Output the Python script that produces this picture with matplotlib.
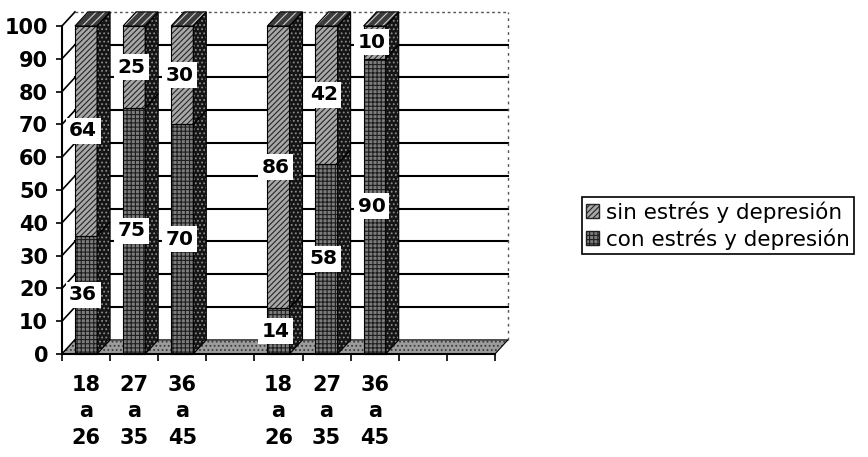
import numpy as np
import matplotlib
matplotlib.use('Agg')
import matplotlib.pyplot as plt
from matplotlib.patches import Polygon, Patch

# Data: 9 category slots, blanks are empty slots of the chart
categories = ['18\na\n26', '27\na\n35', '36\na\n45', '',
              '18\na\n26', '27\na\n35', '36\na\n45', '', '']
con_estres = [36, 75, 70, np.nan, 14, 58, 90, np.nan, np.nan]
sin_estres = [64, 25, 30, np.nan, 86, 42, 10, np.nan, np.nan]
series_names = ['sin estrés y depresión', 'con estrés y depresión']
yticks = list(range(0, 101, 10))

plt.rcParams['hatch.linewidth'] = 0.8

# 3D look: depth offset of the back wall, in data units
DX = 0.27
DY = 4.3
BAR_W = 0.46

SIN_FACE, SIN_HATCH = '#a8a8a8', '#262626'
CON_FACE, CON_HATCH = '#7c7c7c', '#1e1e1e'
SIDE_FACE, SIDE_HATCH = '#151515', '#8a8a8a'
TOP_FACE, TOP_HATCH = '#3c3c3c', '#cfcfcf'


def poly(ax, pts, face, hatch, hcol, z):
    """Filled, hatched polygon plus a separate black outline."""
    ax.add_patch(Polygon(pts, closed=True, facecolor=face, hatch=hatch,
                         edgecolor=hcol, lw=0, zorder=z, clip_on=False))
    ax.add_patch(Polygon(pts, closed=True, fill=False, edgecolor='black',
                         lw=0.8, zorder=z + 0.01, clip_on=False))


fig = plt.figure(figsize=(8.68, 4.57), dpi=100)
ax = fig.add_axes([0.0714, 0.2254, 0.4988, 0.7177])
ax.set_xlim(0, len(categories))
ax.set_ylim(0, 100)
ax.patch.set_visible(False)
for s in ['top', 'right']:
    ax.spines[s].set_visible(False)
for s in ['left', 'bottom']:
    ax.spines[s].set_linewidth(1.5)
    ax.spines[s].set_zorder(20)

n = len(categories)

# Back wall gridlines, top and right edge
for v in yticks[1:-1]:
    ax.plot([DX, n + DX], [v + DY, v + DY], color='black', lw=1.5, zorder=1,
            clip_on=False)
ax.plot([DX, n + DX], [100 + DY, 100 + DY], color='#555555', lw=1,
        ls=(0, (2, 2)), zorder=1, clip_on=False)
ax.plot([n + DX, n + DX], [DY, 100 + DY], color='#555555', lw=1,
        ls=(0, (2, 3)), zorder=1, clip_on=False)
# side-wall tick strokes from the front axis to the back wall
for v in yticks:
    ax.plot([0, DX], [v, v + DY], color='black', lw=1.2, zorder=2,
            clip_on=False)

# Floor
poly(ax, [(0, 0), (n, 0), (n + DX, DY), (DX, DY)], '#9c9c9c', '....',
     '#3a3a3a', 2)

# Front faces of stacked columns
x = np.arange(n) + 0.5
con_bars = ax.bar(x, con_estres, width=BAR_W, color=CON_FACE, hatch='++++',
                  edgecolor=CON_HATCH, lw=0, zorder=5)
sin_bars = ax.bar(x, sin_estres, width=BAR_W, bottom=con_estres,
                  color=SIN_FACE, hatch='//////', edgecolor=SIN_HATCH, lw=0,
                  zorder=5)

for cb, sb in zip(con_bars, sin_bars):
    if np.isnan(cb.get_height()):
        continue
    x0 = cb.get_x()
    x1 = x0 + cb.get_width()
    for b in (cb, sb):
        y0 = b.get_y()
        y1 = y0 + b.get_height()
        ax.add_patch(Polygon([(x0, y0), (x1, y0), (x1, y1), (x0, y1)],
                             fill=False, edgecolor='black', lw=0.8, zorder=5.5,
                             clip_on=False))
        # side face
        poly(ax, [(x1, y0), (x1 + DX, y0 + DY), (x1 + DX, y1 + DY), (x1, y1)],
             SIDE_FACE, '....', SIDE_HATCH, 6)
    top = sb.get_y() + sb.get_height()
    poly(ax, [(x0, top), (x1, top), (x1 + DX, top + DY), (x0 + DX, top + DY)],
         TOP_FACE, '////', TOP_HATCH, 6)

# Data labels
for cb, sb, c, s in zip(con_bars, sin_bars, con_estres, sin_estres):
    if np.isnan(c):
        continue
    xc = cb.get_x() + cb.get_width() / 2 - 0.06
    for b, val in ((cb, c), (sb, s)):
        ax.text(xc, b.get_y() + b.get_height() / 2, f'{val:g}',
                ha='center', va='center', fontsize=14.5, fontweight='bold',
                zorder=10,
                bbox=dict(facecolor='white', edgecolor='none', pad=2.5))

# Axes ticks
ax.set_yticks(yticks)
ax.set_yticklabels([str(v) for v in yticks], fontsize=15, fontweight='bold')
ax.tick_params(axis='y', direction='out', length=4, width=1.2, pad=6)
ax.set_xticks(np.arange(n + 1))
ax.set_xticklabels([])
ax.tick_params(axis='x', which='major', direction='out', length=5, width=1.2)
ax.set_xticks(x, minor=True)
ax.set_xticklabels(categories, minor=True, fontsize=15, fontweight='bold',
                   linespacing=1.4)
ax.tick_params(axis='x', which='minor', length=0, pad=15)

# Legend
handles = [Patch(facecolor=SIN_FACE, hatch='//////', edgecolor=SIN_HATCH),
           Patch(facecolor=CON_FACE, hatch='++++', edgecolor=CON_HATCH)]
leg = fig.legend(handles, series_names, loc='upper left',
                 bbox_to_anchor=(582 / 868, 1 - 197 / 457),
                 bbox_transform=fig.transFigure, frameon=True, fancybox=False,
                 edgecolor='black', framealpha=1, borderaxespad=0,
                 fontsize=15.5, handlelength=0.6, handleheight=0.6,
                 handletextpad=0.3, borderpad=0.2, labelspacing=0.25)
leg.get_frame().set_linewidth(1.2)

fig.savefig('out.png', dpi=100)
